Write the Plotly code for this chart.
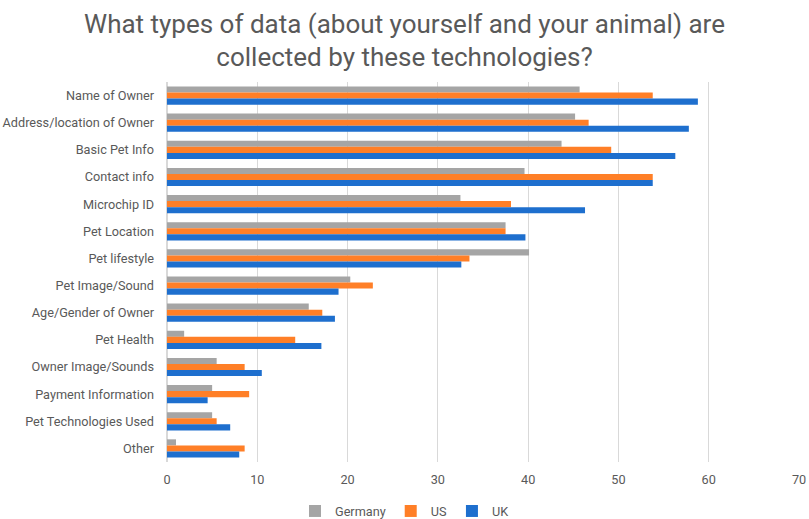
import plotly.graph_objects as go

categories = [
    "Name of Owner",
    "Address/location of Owner",
    "Basic Pet Info",
    "Contact info",
    "Microchip ID",
    "Pet Location",
    "Pet lifestyle",
    "Pet Image/Sound",
    "Age/Gender of Owner",
    "Pet Health",
    "Owner Image/Sounds",
    "Payment Information",
    "Pet Technologies Used",
    "Other",
]

germany = [45.7, 45.2, 43.7, 39.6, 32.5, 37.5, 40.1, 20.3, 15.7, 1.9, 5.5, 5.0, 5.0, 1.0]
us = [53.8, 46.7, 49.2, 53.8, 38.1, 37.5, 33.5, 22.8, 17.2, 14.2, 8.6, 9.1, 5.5, 8.6]
uk = [58.8, 57.8, 56.3, 53.8, 46.3, 39.7, 32.6, 19.0, 18.6, 17.1, 10.5, 4.5, 7.0, 8.0]

series = [
    ("Germany", germany, "#A5A5A5"),
    ("US", us, "#FF7F27"),
    ("UK", uk, "#1E6FCE"),
]

font_family = "Roboto, sans-serif"

fig = go.Figure()
for name, values, color in series:
    fig.add_trace(
        go.Bar(
            y=categories,
            x=values,
            name=name,
            orientation="h",
            marker=dict(color=color, line=dict(width=0)),
        )
    )

fig.update_layout(
    width=809,
    height=519,
    barmode="group",
    bargap=0.33,
    bargroupgap=0,
    plot_bgcolor="white",
    paper_bgcolor="white",
    font=dict(family=font_family, size=12.7, color="#595959"),
    title=dict(
        text="What types of data (about yourself and your animal) are<br>collected by these technologies?",
        x=0.5,
        xanchor="center",
        y=0.937,
        yanchor="middle",
        font=dict(family=font_family, size=26, color="#595959"),
    ),
    margin=dict(l=167, r=10, t=82, b=57, autoexpand=False),
    legend=dict(
        orientation="h",
        xref="container",
        x=0.5,
        xanchor="center",
        y=-0.09,
        yanchor="top",
        font=dict(size=12.7),
        itemwidth=30,
        traceorder="normal",
    ),
)

fig.update_xaxes(
    range=[0, 70],
    dtick=10,
    showgrid=True,
    gridcolor="#D9D9D9",
    zeroline=True,
    zerolinecolor="#D9D9D9",
    showline=False,
    ticks="",
    automargin=False,
    ticklabelstandoff=8,
)
fig.update_yaxes(
    autorange="reversed",
    showgrid=False,
    ticks="",
    automargin=False,
    ticklabelstandoff=12,
)

# the page's default body margin would shift the figure by 8px
fig.write_html(
    "out.html",
    config={"displayModeBar": False},
    post_script="document.body.style.margin='0';",
)
